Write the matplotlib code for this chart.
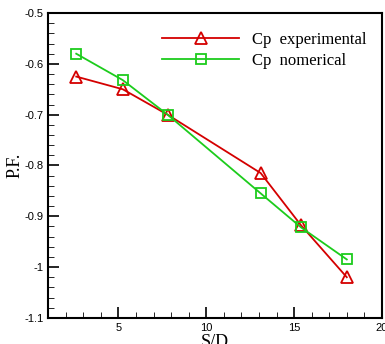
import numpy as np
import matplotlib.pyplot as plt

sd = [2.6, 5.25, 7.8, 13.1, 15.4, 18.0]
cp_exp = [-0.625, -0.65, -0.70, -0.815, -0.918, -1.02]
cp_num = [-0.58, -0.632, -0.70, -0.855, -0.922, -0.985]

fig = plt.figure(figsize=(3.85, 3.44), dpi=100)
ax = fig.add_axes([0.125, 0.076, 0.867, 0.886])

ax.plot(sd, cp_exp, color='#d40000', lw=1.3, marker='^', ms=8,
        mfc='none', mec='#d40000', mew=1.3, label='Cp  experimental')
ax.plot(sd, cp_num, color='#1ccc1c', lw=1.3, marker='s', ms=7,
        mfc='none', mec='#1ccc1c', mew=1.3, label='Cp  nomerical')

ax.set_xlim(1, 20)
ax.set_ylim(-1.1, -0.5)
ax.set_xticks([5, 10, 15, 20])
ax.set_xticks(np.arange(2, 20, 1), minor=True)
ax.set_yticks([-1.1, -1, -0.9, -0.8, -0.7, -0.6, -0.5])
ax.set_yticklabels(['-1.1', '-1', '-0.9', '-0.8', '-0.7', '-0.6', '-0.5'])
ax.set_yticks(np.arange(-1.08, -0.5, 0.02), minor=True)
ax.tick_params(which='both', direction='in', top=False, right=False,
               labelsize=8)
ax.tick_params(which='major', length=8, width=1.2)
ax.tick_params(which='minor', length=4, width=0.6)
for lab in ax.get_xticklabels() + ax.get_yticklabels():
    lab.set_family('Liberation Sans')
for s in ax.spines.values():
    s.set_linewidth(1.5)

ax.set_xlabel('S/D', family='Liberation Serif', fontsize=13, labelpad=1)
ax.set_ylabel('P.F.', family='Liberation Serif', fontsize=13, labelpad=0)

leg = ax.legend(loc='upper right', bbox_to_anchor=(1.0, 0.988), frameon=False,
                handlelength=4.6, handletextpad=0.8, labelspacing=0.3,
                prop={'family': 'Liberation Serif', 'size': 12})

fig.savefig('out.png', dpi=100)
